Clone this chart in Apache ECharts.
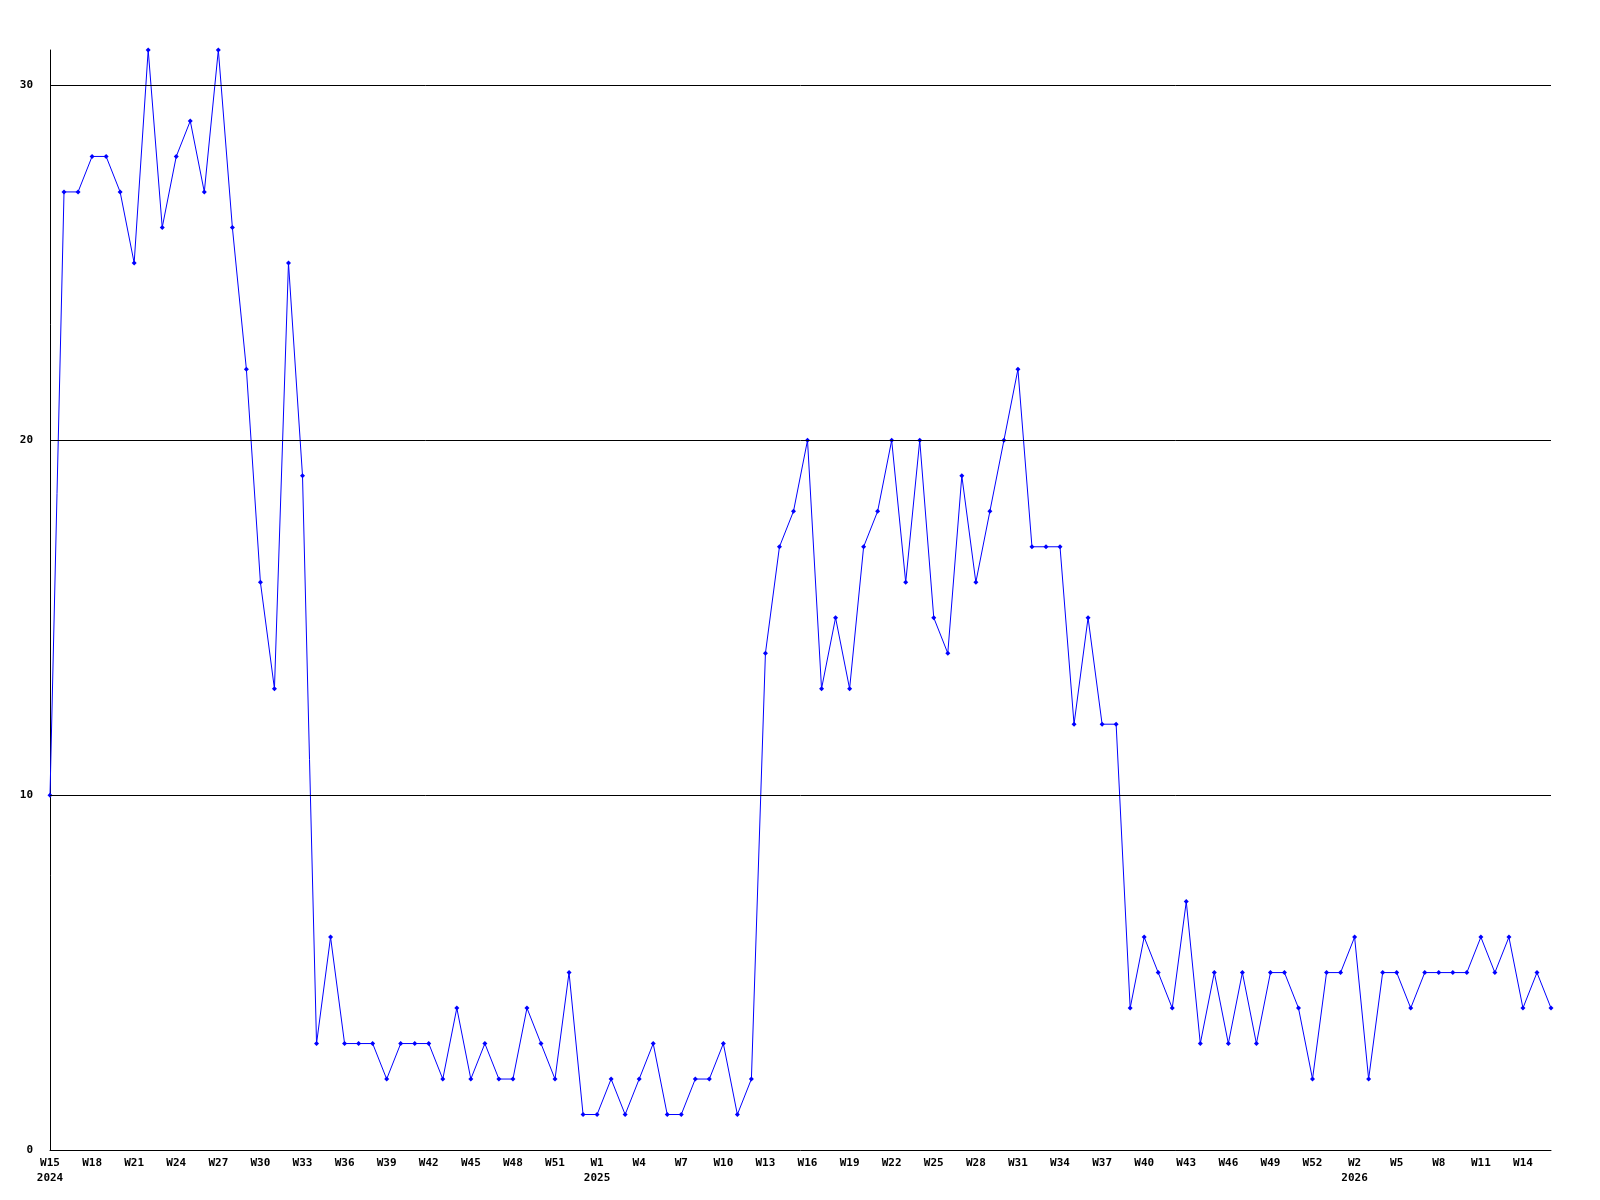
<!DOCTYPE html>
<html>
<head>
<meta charset="utf-8">
<script src="https://cdn.jsdelivr.net/npm/echarts@6/dist/echarts.min.js"></script>
<style>
html,body{margin:0;padding:0;background:#fff;}
#chart{width:1600px;height:1200px;}
</style>
</head>
<body>
<div id="chart"></div>
<script>
const weeks2024 = ['W15','W16','W17','W18','W19','W20','W21','W22','W23','W24','W25','W26','W27','W28','W29','W30','W31','W32','W33','W34','W35','W36','W37','W38','W39','W40','W41','W42','W43','W44','W45','W46','W47','W48','W49','W50','W51','W52','W53'];
const weeks2025 = ['W1','W2','W3','W4','W5','W6','W7','W8','W9','W10','W11','W12','W13','W14','W15','W16','W17','W18','W19','W20','W21','W22','W23','W24','W25','W26','W27','W28','W29','W30','W31','W32','W33','W34','W35','W36','W37','W38','W39','W40','W41','W42','W43','W44','W45','W46','W47','W48','W49','W50','W51','W52','W53'];
const weeks2026 = ['W1','W2','W3','W4','W5','W6','W7','W8','W9','W10','W11','W12','W13','W14','W15','W16'];

const values2024 = [10,27,27,28,28,27,25,31,26,28,29,27,31,26,22,16,13,25,19,3,6,3,3,3,2,3,3,3,2,4,2,3,2,2,4,3,2,5,1];
const values2025 = [1,2,1,2,3,1,1,2,2,3,1,2,14,17,18,20,13,15,13,17,18,20,16,20,15,14,19,16,18,20,22,17,17,17,12,15,12,12,4,6,5,4,7,3,5,3,5,3,5,5,4,2,5];
const values2026 = [5,6,2,5,5,4,5,5,5,5,6,5,6,4,5,4];

const yTicks = [0, 10, 20, 30];

const categories = [];
const years = [];
weeks2024.forEach(w => { categories.push(w); years.push('2024'); });
weeks2025.forEach(w => { categories.push(w); years.push('2025'); });
weeks2026.forEach(w => { categories.push(w); years.push('2026'); });
const values = values2024.concat(values2025, values2026);

const LABEL_STEP = 3;
const shownYear = {};
for (let i = 0; i < categories.length; i += LABEL_STEP) {
  if (!(years[i] in shownYear)) shownYear[years[i]] = i;
}

const chart = echarts.init(document.getElementById('chart'));
const font = '"DejaVu Sans Mono", "Liberation Mono", monospace';
chart.setOption({
  animation: false,
  backgroundColor: '#ffffff',
  grid: { left: 50, right: 49, top: 50, bottom: 50, containLabel: false },
  xAxis: {
    type: 'category',
    data: categories,
    boundaryGap: false,
    axisLine: { show: true, lineStyle: { color: '#000', width: 1 } },
    axisTick: { show: false },
    splitLine: { show: false },
    axisLabel: {
      interval: LABEL_STEP - 1,
      color: '#000',
      fontFamily: font,
      fontWeight: 'bold',
      fontSize: 11,
      lineHeight: 15,
      margin: 6,
      formatter: function (val, idx) {
        return shownYear[years[idx]] === idx ? val + '\n' + years[idx] : val;
      }
    }
  },
  yAxis: {
    type: 'value',
    min: 0,
    max: 31,
    interval: 10,
    axisLine: { show: true, lineStyle: { color: '#000', width: 1 } },
    axisTick: { show: false },
    splitLine: { show: false },
    axisLabel: {
      color: '#000',
      fontFamily: font,
      fontWeight: 'bold',
      fontSize: 11,
      margin: 17,
      formatter: function (v) { return yTicks.indexOf(v) >= 0 ? String(v) : ''; }
    }
  },
  series: [{
    type: 'line',
    data: values,
    symbol: 'diamond',
    symbolSize: 5,
    showAllSymbol: true,
    lineStyle: { color: '#0000ff', width: 1 },
    itemStyle: { color: '#0000ff' },
    z: 3,
    markLine: {
      silent: true,
      symbol: ['none', 'none'],
      label: { show: false },
      lineStyle: { color: '#000', width: 1, type: 'solid' },
      data: yTicks.filter(v => v > 0).map(v => ({ yAxis: v }))
    }
  }]
});
</script>
</body>
</html>
